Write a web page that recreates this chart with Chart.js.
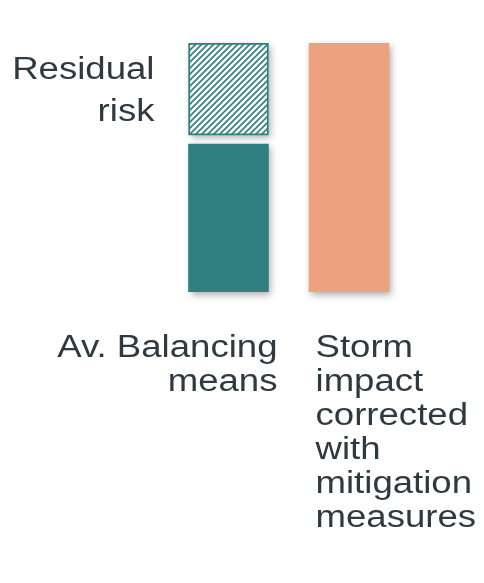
<!DOCTYPE html>
<html>
<head>
<meta charset="utf-8">
<script src="https://cdn.jsdelivr.net/npm/chart.js@4/dist/chart.umd.min.js"></script>
<style>
  html, body { margin: 0; padding: 0; background: #ffffff; }
  #wrap { width: 484px; height: 583px; position: relative; }
</style>
</head>
<body>
<div id="wrap"><canvas id="chart"></canvas></div>
<script>
// Category labels (one per bar column, multi-line)
const categories = [
  ['Av. Balancing', 'means'],
  ['Storm', 'impact', 'corrected', 'with', 'mitigation', 'measures']
];
// Floating bar ranges [start, end] on a 0–100 scale
const balancingMeans = [[0, 59.4]];
const residualRisk   = [[63, 100]];
const stormImpact    = [[0, 100]];
const residualLabel  = ['Residual', 'risk'];

const TEAL = '#2f7e80';
const SALMON = '#eca27e';
const TEXT = '#2e3a40';
const FONT = "'Liberation Sans', Arial, Helvetica, sans-serif";
const STRETCH = 1.18;   // horizontal widening of the lettering

// Diagonal hatch fill for the residual-risk segment
function hatchPattern(color) {
  const s = 6;
  const c = document.createElement('canvas');
  c.width = s; c.height = s;
  const g = c.getContext('2d');
  g.fillStyle = '#ffffff';
  g.fillRect(0, 0, s, s);
  g.strokeStyle = color;
  g.lineWidth = 1.6;
  g.beginPath();
  g.moveTo(0, s); g.lineTo(s, 0);
  g.moveTo(-1, 1); g.lineTo(1, -1);
  g.moveTo(s - 1, s + 1); g.lineTo(s + 1, s - 1);
  g.stroke();
  return g.createPattern(c, 'repeat');
}

// Draw all canvas text horizontally widened around its anchor point
const widePlugin = {
  id: 'wideText',
  beforeInit(chart) {
    const ctx = chart.ctx;
    if (ctx.__wide) return;
    const fill = ctx.fillText.bind(ctx);
    ctx.fillText = function (text, x, y) {
      this.save();
      this.translate(x, y);
      this.scale(STRETCH, 1);
      fill(text, 0, 0);
      this.restore();
    };
    ctx.__wide = true;
  }
};

// Soft drop shadow painted behind every bar
const shadowPlugin = {
  id: 'barShadow',
  beforeDatasetsDraw(chart) {
    const ctx = chart.ctx;
    ctx.save();
    ctx.shadowColor = 'rgba(0,0,0,0.32)';
    ctx.shadowBlur = 7;
    ctx.shadowOffsetX = 2;
    ctx.shadowOffsetY = 3;
    ctx.fillStyle = '#ffffff';
    chart.data.datasets.forEach((ds, i) => {
      chart.getDatasetMeta(i).data.forEach(el => {
        const p = el.getProps(['x', 'y', 'base', 'width'], true);
        const top = Math.min(p.y, p.base), bottom = Math.max(p.y, p.base);
        ctx.fillRect(p.x - p.width / 2, top, p.width, bottom - top);
      });
    });
    ctx.restore();
  }
};

// Side label for the residual-risk segment
const residualPlugin = {
  id: 'residualLabel',
  afterDatasetsDraw(chart) {
    const el = chart.getDatasetMeta(1).data[0];
    if (!el) return;
    const p = el.getProps(['x', 'y', 'base', 'width'], true);
    const mid = (p.y + p.base) / 2;
    const ctx = chart.ctx;
    ctx.save();
    ctx.font = '31px ' + FONT;
    ctx.fillStyle = TEXT;
    ctx.textAlign = 'right';
    ctx.textBaseline = 'alphabetic';
    const xr = p.x - p.width / 2 - 34;
    ctx.fillText(residualLabel[0], xr, mid - 10);
    ctx.fillText(residualLabel[1], xr, mid + 32);
    ctx.restore();
  }
};

function fixAxis(scale) {
  scale.height = 240;
  scale.paddingLeft = 0;
  scale.paddingRight = 0;
  scale.paddingTop = 0;
  scale.paddingBottom = 0;
}

const tickFont = { family: FONT, size: 31, lineHeight: 34 / 31 };

new Chart(document.getElementById('chart'), {
  type: 'bar',
  data: {
    datasets: [
      {
        label: 'Av. Balancing means',
        data: balancingMeans,
        xAxisID: 'x',
        backgroundColor: TEAL,
        borderWidth: 0,
        grouped: false,
        barThickness: 80
      },
      {
        label: residualLabel.join(' '),
        data: residualRisk,
        xAxisID: 'x',
        backgroundColor: hatchPattern(TEAL),
        borderColor: TEAL,
        borderWidth: 2,
        borderSkipped: false,
        grouped: false,
        barThickness: 80
      },
      {
        label: 'Storm impact corrected with mitigation measures',
        data: stormImpact,
        xAxisID: 'x2',
        backgroundColor: SALMON,
        borderWidth: 0,
        grouped: false,
        barThickness: 80
      }
    ]
  },
  options: {
    responsive: true,
    maintainAspectRatio: false,
    animation: false,
    events: [],
    layout: { padding: { left: 168.25, right: 74.75, top: 43, bottom: 51 } },
    plugins: {
      legend: { display: false },
      tooltip: { enabled: false },
      title: { display: false }
    },
    scales: {
      x: {
        type: 'category',
        labels: [categories[0]],
        position: 'bottom',
        stack: 'cats',
        stackWeight: 1,
        offset: true,
        grid: { display: false, drawTicks: false },
        border: { display: false },
        ticks: {
          align: 'end',
          labelOffset: 49,
          padding: 39,
          maxRotation: 0,
          minRotation: 0,
          color: TEXT,
          font: tickFont
        },
        afterFit: fixAxis
      },
      x2: {
        type: 'category',
        labels: [categories[1]],
        position: 'bottom',
        stack: 'cats',
        stackWeight: 1,
        offset: true,
        grid: { display: false, drawTicks: false },
        border: { display: false },
        ticks: {
          align: 'start',
          labelOffset: -33.5,
          padding: 39,
          maxRotation: 0,
          minRotation: 0,
          color: TEXT,
          font: tickFont
        },
        afterFit: fixAxis
      },
      y: {
        display: false,
        min: 0,
        max: 100
      }
    }
  },
  plugins: [widePlugin, shadowPlugin, residualPlugin]
});
</script>
</body>
</html>
